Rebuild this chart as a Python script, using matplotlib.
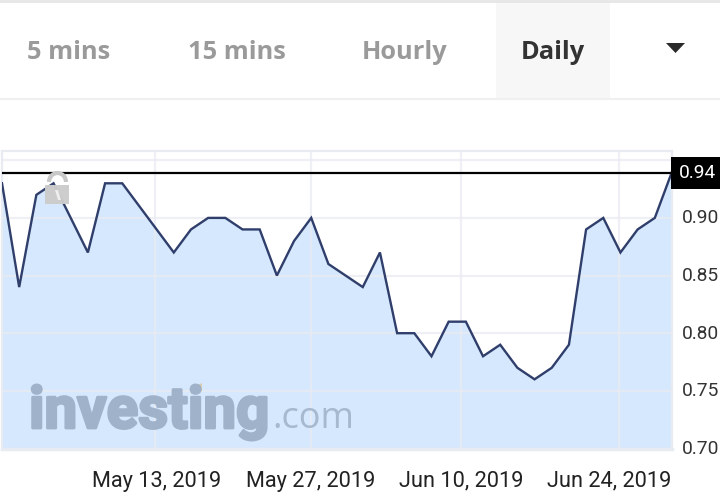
import matplotlib as mpl
mpl.use("Agg")
import matplotlib.pyplot as plt
import matplotlib.patheffects as pe
from matplotlib.patches import Rectangle, Arc, Polygon

W, H = 720, 503

tabs = ["5 mins", "15 mins", "Hourly", "Daily"]
tab_x = [69, 237, 405, 553]
tab_colors = ["#9a9a9a", "#9a9a9a", "#9a9a9a", "#333333"]

prices = [0.93, 0.84, 0.92, 0.93, 0.90, 0.87, 0.93, 0.93, 0.91, 0.89,
          0.87, 0.89, 0.90, 0.90, 0.89, 0.89, 0.85, 0.88, 0.90, 0.86,
          0.85, 0.84, 0.87, 0.80, 0.80, 0.78, 0.81, 0.81, 0.78, 0.79,
          0.77, 0.76, 0.77, 0.79, 0.89, 0.90, 0.87, 0.89, 0.90, 0.94]
days = list(range(len(prices)))
last_price = 0.939
last_label = "0.94"

y_ticks = [0.70, 0.75, 0.80, 0.85, 0.90, 0.95]
y_labels = ["0.70", "0.75", "0.80", "0.85", "0.90"]
date_pos = [8.9, 18.0, 26.7, 35.9]
date_labels = ["May 13, 2019", "May 27, 2019", "Jun 10, 2019", "Jun 24, 2019"]
date_label_x = [157, 311, 461, 609]

fig = plt.figure(figsize=(W / 100, H / 100), dpi=100)
plt.rcParams["font.family"] = ["Roboto", "DejaVu Sans"]

# page furniture in pixel coordinates
ui = fig.add_axes([0, 0, 1, 1])
ui.set_xlim(0, W)
ui.set_ylim(H, 0)
ui.axis("off")
ui.add_patch(Rectangle((496, 2), 114, 96, color="#f7f7f7", lw=0))
ui.plot([0, W], [1, 1], color="#e6e6e6", lw=2)
ui.plot([0, W], [99, 99], color="#f0f0f0", lw=1.5)
for t, x, c in zip(tabs, tab_x, tab_colors):
    ui.text(x, 52, t, ha="center", va="center", fontsize=18.3, color=c,
            fontweight="bold", family="Open Sans")
ui.add_patch(Polygon([[666, 43], [685, 43], [675.5, 53]], color="#2a2a2a", lw=0))

# chart, 0.05 on the y axis is 57.65 px
ax = fig.add_axes([2 / W, 1 - 448.5 / H, 670 / W, 297.5 / H])
ax.set_xlim(0, 39)
ax.set_ylim(0.70, 0.70 + 297.5 / 1153)
ax.set_facecolor("white")
ax.fill_between(days, prices, 0.70, color="#d6e8fd", lw=0, zorder=1)
ax.plot(days, prices, color="#2f3e6b", lw=1.7, zorder=4, solid_joinstyle="miter")
ax.axhline(last_price, color="black", lw=1.6, zorder=5)
ax.set_yticks(y_ticks)
ax.set_xticks(date_pos)
ax.grid(True, color="#e9ebf2", lw=1.6, zorder=2)
for gl in ax.get_xgridlines() + ax.get_ygridlines():
    gl.set_zorder(2)
    gl.set_alpha(0.75)
ax.tick_params(length=0, labelbottom=False, labelleft=False)
for s in ax.spines.values():
    s.set_color("#e9ebf2")
    s.set_linewidth(1.6)
ax.spines["bottom"].set_linewidth(2.5)

# overlay: labels, lock and watermark
top = fig.add_axes([0, 0, 1, 1])
top.set_xlim(0, W)
top.set_ylim(H, 0)
top.axis("off")
top.patch.set_alpha(0)

for val, lab in zip(y_ticks, y_labels):
    y_px = ax.transData.transform((0, val))[1]
    top.text(682, H - y_px + 0.5, lab, ha="left", va="center", fontsize=13.8, color="#333333")
for x, lab in zip(date_label_x, date_labels):
    top.text(x, 481, lab, ha="center", va="center", fontsize=15.7, color="#222222")

top.add_patch(Rectangle((671, 157), 49, 32, color="black", lw=0))
top.text(679, 173.5, last_label, ha="left", va="center", fontsize=13.8, color="white")

top.add_patch(Arc((57.5, 182), 17, 18, theta1=180, theta2=360, color="#c8c8c8", lw=3))
top.add_patch(Rectangle((45, 185), 24, 18.5, color="#cccccc", alpha=0.97, lw=0))
top.add_patch(Polygon([[55, 190], [58, 190], [61, 200], [58, 200]], color="#eeeeee", lw=0))

top.text(29, 428, "investing", fontsize=42, fontweight="bold", color="#9fb2c9", ha="left",
         va="baseline", family="Roboto",
         path_effects=[pe.withStroke(linewidth=2, foreground="#9fb2c9")])
top.text(272, 428, ".com", fontsize=26, color="#a7b9cf", ha="left", va="baseline", family="Open Sans")
top.add_patch(Polygon([[191, 388], [202, 383], [202, 391], [191, 394]], color="#d8cdb0", lw=0))

fig.savefig("out.png", dpi=100)
